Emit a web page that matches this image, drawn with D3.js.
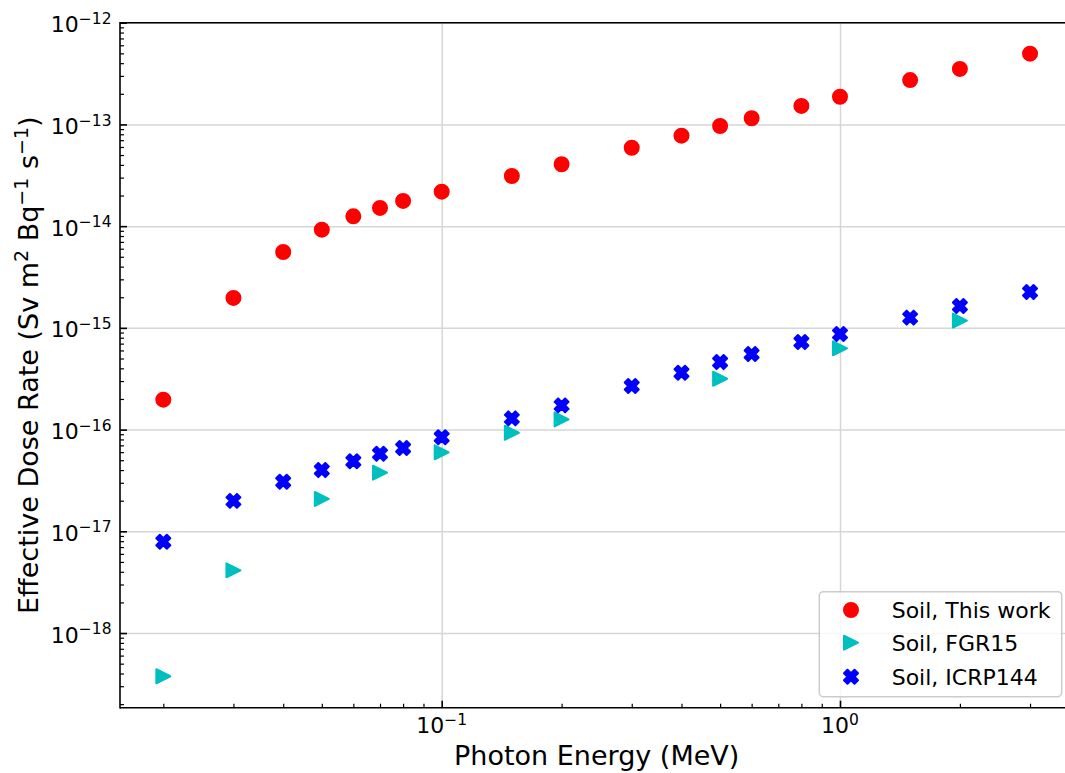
<!DOCTYPE html>
<html>
<head>
<meta charset="utf-8">
<script src="https://cdn.jsdelivr.net/npm/d3@7"></script>
<style>
  html, body { margin: 0; padding: 0; background: #fff; overflow: hidden; }
  svg { display: block; overflow: hidden; }
</style>
</head>
<body>
<svg id="chart" width="1065" height="773"></svg>
<script>
// ---- data ----
const energies = [0.02, 0.03, 0.04, 0.05, 0.06, 0.07, 0.08, 0.1, 0.15, 0.2, 0.3, 0.4, 0.5, 0.6, 0.8, 1, 1.5, 2, 3];
const thisWork = [1.97e-16, 1.97e-15, 5.57e-15, 9.23e-15, 1.25e-14, 1.51e-14, 1.77e-14, 2.18e-14, 3.11e-14, 4.06e-14, 5.90e-14, 7.75e-14, 9.65e-14, 1.15e-13, 1.52e-13, 1.87e-13, 2.73e-13, 3.51e-13, 4.96e-13];
const icrpEnergies = [0.02, 0.03, 0.04, 0.05, 0.06, 0.07, 0.08, 0.1, 0.15, 0.2, 0.3, 0.4, 0.5, 0.6, 0.8, 1, 1.5, 2, 3];
const icrp144 = [7.9e-18, 1.99e-17, 3.07e-17, 4.0e-17, 4.88e-17, 5.79e-17, 6.59e-17, 8.4e-17, 1.29e-16, 1.73e-16, 2.68e-16, 3.62e-16, 4.61e-16, 5.53e-16, 7.26e-16, 8.7e-16, 1.26e-15, 1.64e-15, 2.25e-15];
const fgrEnergies = [0.02, 0.03, 0.05, 0.07, 0.1, 0.15, 0.2, 0.5, 1, 2];
const fgr15 = [3.76e-19, 4.14e-18, 2.08e-17, 3.77e-17, 5.98e-17, 9.31e-17, 1.26e-16, 3.16e-16, 6.3e-16, 1.18e-15];
const seriesNames = ["Soil, This work", "Soil, FGR15", "Soil, ICRP144"];
const xMajorExps = [-1, 0];
const yMajorExps = [-18, -17, -16, -15, -14, -13, -12];
const xLabel = "Photon Energy (MeV)";

// ---- layout ----
const W = 1065, H = 773;
const svg = d3.select("#chart");
const font = "DejaVu Sans, sans-serif";
const L = 120, T = 22.7, B = 707.7, R = 1073.4;
const x = d3.scaleLog().domain([Math.pow(10, -1.8077), Math.pow(10, 0.586)]).range([L, R]);
const y = d3.scaleLog().domain([Math.pow(10, -18.734), 1e-12]).range([B, T]);

const xMajor = xMajorExps.map(e => Math.pow(10, e));
const yMajor = yMajorExps.map(e => Math.pow(10, e));
const xMinor = [];
for (let e = -2; e <= 0; e++) for (let m = 2; m <= 9; m++) {
  const v = m * Math.pow(10, e);
  if (v > x.domain()[0] && v < x.domain()[1]) xMinor.push(v);
}
const yMinor = [];
for (let e = -19; e <= -13; e++) for (let m = 2; m <= 9; m++) {
  const v = m * Math.pow(10, e);
  if (v > y.domain()[0] && v < y.domain()[1]) yMinor.push(v);
}

svg.append("rect").attr("width", W).attr("height", H).attr("fill", "#fff");

// clips
const defs = svg.append("defs");
defs.append("clipPath").attr("id", "clip").append("rect")
  .attr("x", L).attr("y", T).attr("width", Math.min(R, W) - L).attr("height", B - T);
defs.append("clipPath").attr("id", "canvasClip").append("rect")
  .attr("x", 0).attr("y", 0).attr("width", W).attr("height", H);

const root = svg.append("g").attr("clip-path", "url(#canvasClip)");

// grid
const gridColor = "#d6d6d6";
root.append("g").attr("transform", `translate(0,${B})`)
  .call(d3.axisBottom(x).tickValues(xMajor).tickSize(-(B - T)).tickSizeOuter(0).tickFormat(""))
  .call(g => g.select(".domain").remove())
  .call(g => g.selectAll("line").attr("stroke", gridColor).attr("stroke-width", 1.5));
root.append("g").attr("transform", `translate(${L},0)`).attr("clip-path", null)
  .call(d3.axisLeft(y).tickValues(yMajor).tickSize(-(Math.min(R, W) - L)).tickSizeOuter(0).tickFormat(""))
  .call(g => g.select(".domain").remove())
  .call(g => g.selectAll("line").attr("stroke", gridColor).attr("stroke-width", 1.5));

// markers
const plot = root.append("g").attr("clip-path", "url(#clip)");
const ms = 7; // half size of marker body (edge adds ~1px)
const mew = 2;
const triPath = `M${ms},0L${-ms},${-ms}L${-ms},${ms}Z`;
const xf = [[-1,-2],[0,-1],[1,-2],[2,-1],[1,0],[2,1],[1,2],[0,1],[-1,2],[-2,1],[-1,0],[-2,-1]];
const xPath = "M" + xf.map(p => [p[0] * ms / 2, p[1] * ms / 2].join(",")).join("L") + "Z";
const red = "#ff0000", cyan = "#00bfbf", blue = "#0000ff";

function styleMarker(sel, c) {
  sel.attr("fill", c).attr("stroke", c).attr("stroke-width", mew).attr("stroke-linejoin", "round");
}

plot.selectAll("circle.tw").data(energies.map((e, i) => [e, thisWork[i]]))
  .join("circle").attr("class", "tw")
  .attr("cx", d => x(d[0])).attr("cy", d => y(d[1])).attr("r", ms)
  .call(styleMarker, red);
plot.selectAll("path.fgr").data(fgrEnergies.map((e, i) => [e, fgr15[i]]))
  .join("path").attr("class", "fgr")
  .attr("d", triPath)
  .attr("transform", d => `translate(${x(d[0])},${y(d[1])})`)
  .call(styleMarker, cyan);
plot.selectAll("path.icrp").data(icrpEnergies.map((e, i) => [e, icrp144[i]]))
  .join("path").attr("class", "icrp")
  .attr("d", xPath)
  .attr("transform", d => `translate(${x(d[0])},${y(d[1])})`)
  .call(styleMarker, blue);

// axes ticks (inward)
const axStroke = 1.6;
root.append("g").attr("transform", `translate(0,${B})`)
  .call(d3.axisBottom(x).tickValues(xMinor).tickSize(-4).tickSizeOuter(0).tickFormat(""))
  .call(g => g.select(".domain").remove())
  .call(g => g.selectAll("line").attr("stroke", "#000").attr("stroke-width", 1.2));
root.append("g").attr("transform", `translate(0,${B})`)
  .call(d3.axisBottom(x).tickValues(xMajor).tickSize(-7).tickSizeOuter(0).tickFormat(""))
  .call(g => g.select(".domain").remove())
  .call(g => g.selectAll("line").attr("stroke", "#000").attr("stroke-width", axStroke));
root.append("g").attr("transform", `translate(${L},0)`)
  .call(d3.axisLeft(y).tickValues(yMinor).tickSize(-4).tickSizeOuter(0).tickFormat(""))
  .call(g => g.select(".domain").remove())
  .call(g => g.selectAll("line").attr("stroke", "#000").attr("stroke-width", 1.2));
root.append("g").attr("transform", `translate(${L},0)`)
  .call(d3.axisLeft(y).tickValues(yMajor).tickSize(-7).tickSizeOuter(0).tickFormat(""))
  .call(g => g.select(".domain").remove())
  .call(g => g.selectAll("line").attr("stroke", "#000").attr("stroke-width", axStroke));

// spines (left, bottom, top; the right spine lies beyond the canvas)
const xEnd = W + 2;
root.append("line").attr("x1", L).attr("x2", xEnd).attr("y1", T).attr("y2", T)
  .attr("stroke", "#000").attr("stroke-width", axStroke);
root.append("line").attr("x1", L).attr("x2", xEnd).attr("y1", B).attr("y2", B)
  .attr("stroke", "#000").attr("stroke-width", axStroke);
root.append("line").attr("x1", L).attr("x2", L).attr("y1", T - 0.8).attr("y2", B + 0.8)
  .attr("stroke", "#000").attr("stroke-width", axStroke);

// tick labels
const tickFs = 22, supFs = 15.5;
function powLabel(sel, exp) {
  sel.append("tspan").text("10");
  sel.append("tspan").attr("font-size", supFs).attr("dy", -8.5)
    .text(exp < 0 ? "\u2212" + Math.abs(exp) : String(exp));
}
xMajorExps.forEach(e => {
  const t = root.append("text").attr("x", x(Math.pow(10, e))).attr("y", B + 25.6)
    .attr("text-anchor", "middle").attr("font-family", font).attr("font-size", tickFs).attr("fill", "#000");
  powLabel(t, e);
});
yMajorExps.forEach(e => {
  const t = root.append("text").attr("x", L - 8.5).attr("y", y(Math.pow(10, e)) + 9.6)
    .attr("text-anchor", "end").attr("font-family", font).attr("font-size", tickFs).attr("fill", "#000");
  powLabel(t, e);
});

// axis labels
const labFs = 27;
root.append("text").attr("x", (L + R) / 2).attr("y", 765)
  .attr("text-anchor", "middle").attr("font-family", font).attr("font-size", labFs)
  .attr("fill", "#000").text(xLabel);

const yl = root.append("text")
  .attr("transform", `translate(38,${(T + B) / 2}) rotate(-90)`)
  .attr("text-anchor", "middle").attr("font-family", font).attr("font-size", labFs).attr("fill", "#000");
const ylParts = [
  ["Effective Dose Rate (Sv m", 0, null],
  ["2", -10.5, 19],
  [" Bq", 10.5, null],
  ["\u22121", -10.5, 19],
  [" s", 10.5, null],
  ["\u22121", -10.5, 19],
  [")", 10.5, null]
];
ylParts.forEach(p => {
  const ts = yl.append("tspan").text(p[0]);
  if (p[1]) ts.attr("dy", p[1]);
  if (p[2]) ts.attr("font-size", p[2]);
});

// legend
const lg = root.append("g");
lg.append("rect").attr("x", 819.3).attr("y", 591.7).attr("width", 242.4).attr("height", 105)
  .attr("rx", 4).attr("fill", "#fff").attr("fill-opacity", 0.8)
  .attr("stroke", "#cccccc").attr("stroke-width", 1.5);
const legRows = [610, 642.7, 676.7];
const legMarkX = 851, legTextX = 891.7;
lg.append("circle").attr("cx", legMarkX).attr("cy", legRows[0]).attr("r", ms).call(styleMarker, red);
lg.append("path").attr("d", triPath).attr("transform", `translate(${legMarkX},${legRows[1]})`).call(styleMarker, cyan);
lg.append("path").attr("d", xPath).attr("transform", `translate(${legMarkX},${legRows[2]})`).call(styleMarker, blue);
seriesNames.forEach((n, i) => {
  lg.append("text").attr("x", legTextX).attr("y", legRows[i] + 8)
    .attr("font-family", font).attr("font-size", 22).attr("fill", "#000").text(n);
});
</script>
</body>
</html>
